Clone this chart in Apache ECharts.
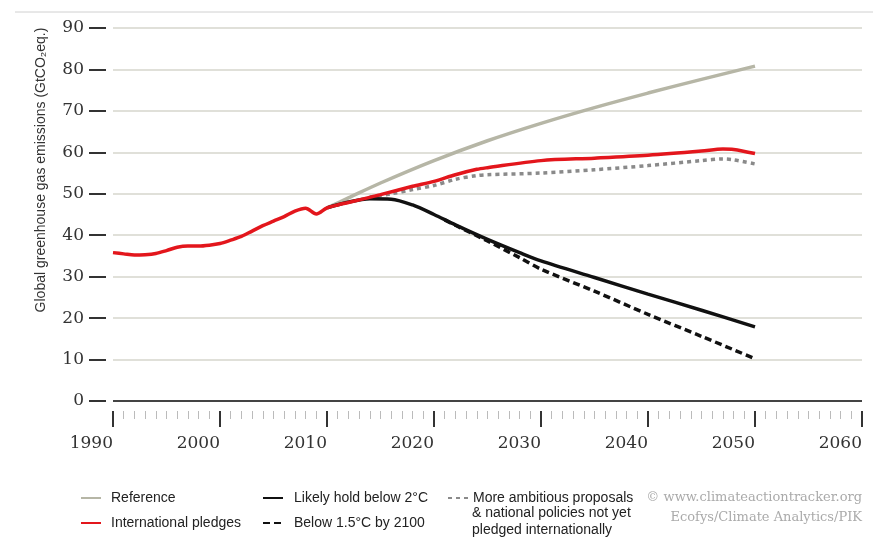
<!DOCTYPE html>
<html>
<head>
<meta charset="utf-8">
<script src="https://cdn.jsdelivr.net/npm/echarts@6/dist/echarts.min.js"></script>
<style>html,body{margin:0;padding:0;background:#fff;}#c{width:873px;height:537px;}</style>
</head>
<body>
<div id="c"></div>
<script>
// Series names
const names = {
  ref: 'Reference',
  pledge: 'International pledges',
  two: 'Likely hold below 2°C',
  onefive: 'Below 1.5°C by 2100',
  amb: 'More ambitious proposals'
};
const ambExtra = '& national policies not yet\npledged internationally';
// Years and values (GtCO2eq.)
const pledgeYears = [1990,1991,1992,1993,1994,1995,1996,1997,1998,1999,2000,2001,2002,2003,2004,2005,2006,2007,2008,2009,2010,2011,2012,2015,2018,2020,2022,2024,2025,2030,2035,2040,2045,2047,2048,2050];
const pledgeVals  = [35.8,35.5,35.2,35.3,35.6,36.3,37.1,37.4,37.4,37.6,38.0,38.8,39.7,41.0,42.3,43.4,44.5,45.8,46.5,45.1,46.6,47.3,47.9,49.8,51.8,53.0,54.6,55.9,56.3,58.0,58.6,59.3,60.3,60.8,60.7,59.7];
const refYears = [2010,2012,2015,2020,2025,2030,2035,2040,2045,2050];
const refVals  = [46.6,49.0,52.6,58.0,62.8,67.0,70.8,74.3,77.6,80.8];
const ambYears = [2014,2016,2018,2020,2022,2024,2025,2030,2035,2040,2045,2047,2048,2050];
const ambVals  = [49.2,50.0,51.0,52.0,53.5,54.4,54.6,55.0,55.8,56.8,58.0,58.4,58.2,57.2];
const twoYears = [2010,2012,2014,2016,2018,2020,2022,2025,2028,2030,2035,2040,2045,2050];
const twoVals  = [46.6,48.0,48.8,48.7,47.3,45.0,42.5,39.0,35.8,33.8,29.8,25.8,21.9,17.9];
const oneFiveYears = [2021,2022,2025,2028,2030,2035,2040,2045,2050];
const oneFiveVals  = [43.7,42.4,38.6,34.6,31.8,26.5,20.9,15.6,10.2];
// Axis ticks
const yTicks = {min: 0, max: 90, interval: 10};
const xTicks = {min: 1990, max: 2060, interval: 10};

const zip = (xs, ys) => xs.map((x, i) => [x, ys[i]]);

const chart = echarts.init(document.getElementById('c'));
const serif = '"DejaVu Serif", Georgia, serif';
const sans = '"Liberation Sans", Arial, sans-serif';
const legendText = {fontFamily: sans, fontSize: 14, color: '#222'};
const legendBase = {orient: 'vertical', top: 491, itemGap: 11, itemWidth: 20, itemHeight: 14, padding: 0,
  itemStyle: {opacity: 0}};

chart.setOption({
  backgroundColor: '#ffffff',
  animation: false,
  grid: {left: 113, right: 11, top: 28, bottom: 136},
  xAxis: {
    type: 'value', min: xTicks.min, max: xTicks.max, interval: xTicks.interval,
    offset: 10,
    axisLine: {show: false, onZero: false},
    axisTick: {show: true, length: 16, lineStyle: {color: '#333', width: 2}},
    minorTick: {show: true, splitNumber: 10, length: 8, lineStyle: {color: '#bbb', width: 1}},
    axisLabel: {show: true, margin: 24, align: 'right', color: '#333', fontFamily: serif, fontSize: 17,
      formatter: v => String(v)},
    splitLine: {show: false}
  },
  yAxis: {
    type: 'value', min: yTicks.min, max: yTicks.max, interval: yTicks.interval,
    offset: 7,
    axisLine: {show: false, onZero: false},
    axisTick: {show: true, length: 17, lineStyle: {color: '#333', width: 2}},
    axisLabel: {margin: 22, color: '#333', fontFamily: serif, fontSize: 17},
    splitLine: {show: true, lineStyle: {color: '#d6d6cc', width: 1.5}}
  },
  legend: [
    Object.assign({}, legendBase, {data: [names.ref, names.pledge], left: 80,
      textStyle: Object.assign({padding: [0, 0, 0, 5]}, legendText)}),
    Object.assign({}, legendBase, {data: [names.two, names.onefive], left: 262,
      textStyle: Object.assign({padding: [0, 0, 0, 6]}, legendText)}),
    Object.assign({}, legendBase, {data: [names.amb], left: 447, textStyle: legendText})
  ],
  graphic: [
    {type: 'line', shape: {x1: 15, y1: 12, x2: 873, y2: 12}, style: {stroke: '#d0d0d0', lineWidth: 1}},
    {type: 'text', x: 41, y: 170, rotation: Math.PI / 2,
      style: {text: 'Global greenhouse gas emissions (GtCO₂eq.)', fontFamily: sans, fontSize: 14, fill: '#333',
        textAlign: 'center', textVerticalAlign: 'middle'}},
    {type: 'text', left: 472, top: 505,
      style: {text: ambExtra, fontFamily: sans, fontSize: 14, fill: '#222', lineHeight: 16.5}},
    {type: 'text', right: 11, top: 491,
      style: {text: '© www.climateactiontracker.org', fontFamily: serif, fontSize: 13, fill: '#aaa', textAlign: 'right'}},
    {type: 'text', right: 11, top: 511,
      style: {text: 'Ecofys/Climate Analytics/PIK', fontFamily: serif, fontSize: 13, fill: '#aaa', textAlign: 'right'}}
  ],
  series: [
    {name: names.ref, type: 'line', data: zip(refYears, refVals), symbol: 'none', smooth: 0.3,
      lineStyle: {color: '#b6b6a6', width: 3.5}, itemStyle: {color: '#b6b6a6'}, z: 2,
      markLine: {silent: true, symbol: 'none', label: {show: false},
        lineStyle: {color: '#444', width: 2, type: 'solid'},
        data: [[{coord: [xTicks.min, yTicks.min]}, {coord: [xTicks.max, yTicks.min]}]]}},
    {name: names.amb, type: 'line', data: zip(ambYears, ambVals), symbol: 'none', smooth: 0.3,
      lineStyle: {color: '#8a8a8a', width: 3.5, type: [4, 4]}, itemStyle: {color: '#8a8a8a'}, z: 3},
    {name: names.onefive, type: 'line', data: zip(oneFiveYears, oneFiveVals), symbol: 'none', smooth: 0.3,
      lineStyle: {color: '#111', width: 3.5, type: [7, 4]}, itemStyle: {color: '#111'}, z: 4},
    {name: names.two, type: 'line', data: zip(twoYears, twoVals), symbol: 'none', smooth: 0.3,
      lineStyle: {color: '#111', width: 3.5}, itemStyle: {color: '#111'}, z: 5},
    {name: names.pledge, type: 'line', data: zip(pledgeYears, pledgeVals), symbol: 'none', smooth: 0.3,
      lineStyle: {color: '#e3161c', width: 3.5}, itemStyle: {color: '#e3161c'}, z: 6}
  ]
});
</script>
</body>
</html>
